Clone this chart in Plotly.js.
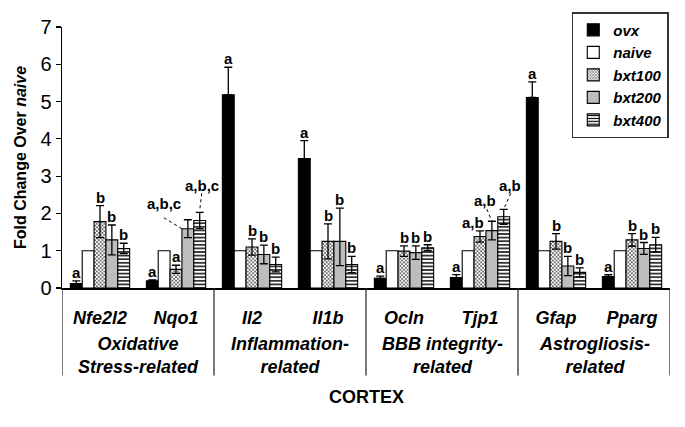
<!DOCTYPE html>
<html>
<head>
<meta charset="utf-8">
<script src="https://cdn.plot.ly/plotly-3.0.1.min.js"></script>
<style>
  html, body { margin: 0; padding: 0; background: #ffffff; }
  #chart { width: 685px; height: 427px; }
</style>
</head>
<body>
<div id="chart"></div>
<script>
// Genes on the x axis and the four functional groups (two genes each)
const genes = ['Nfe2l2', 'Nqo1', 'Il2', 'Il1b', 'Ocln', 'Tjp1', 'Gfap', 'Pparg'];
const groupLabels = ['Oxidative<br>Stress-related', 'Inflammation-<br>related', 'BBB integrity-<br>related', 'Astrogliosis-<br>related'];
const seriesNames = ['ovx', 'naive', 'bxt100', 'bxt200', 'bxt400'];

// Fold change values
const ovx    = [0.12, 0.19, 5.18, 3.47, 0.26, 0.28, 5.11, 0.31];
const naive  = [1, 1, 1, 1, 1, 1, 1, 1];
const bxt100 = [1.78, 0.50, 1.10, 1.25, 0.99, 1.38, 1.25, 1.29];
const bxt200 = [1.29, 1.59, 0.90, 1.25, 0.95, 1.54, 0.59, 1.06];
const bxt400 = [1.06, 1.81, 0.63, 0.63, 1.08, 1.91, 0.42, 1.16];

// Error bars
const ovxErr    = [0.07, 0.03, 0.74, 0.48, 0.06, 0.08, 0.42, 0.05];
const bxt100Err = [0.43, 0.11, 0.22, 0.47, 0.14, 0.15, 0.21, 0.17];
const bxt200Err = [0.40, 0.24, 0.25, 0.89, 0.18, 0.25, 0.26, 0.16];
const bxt200ErrDown = [0.40, 0.24, 0.25, 0.65, 0.18, 0.25, 0.26, 0.16];
const bxt400Err = [0.14, 0.22, 0.20, 0.22, 0.08, 0.20, 0.12, 0.20];

// Significance letters
const ovxSig    = ['a', 'a', 'a', 'a', 'a', 'a', 'a', 'a'];
const bxt100Sig = ['b', 'a', 'b', 'b', 'b', 'a,b', 'b', 'b'];
const bxt200Sig = ['b', 'a,b,c', 'b', 'b', 'b', 'a,b', 'b', 'b'];
const bxt400Sig = ['b', 'a,b,c', 'b', 'b', 'b', 'a,b', 'b', 'b'];

const FONT = 'Arial, "Liberation Sans", sans-serif';
const BARGAP = 0.22;
const barW = (1 - BARGAP) / seriesNames.length;
const xs = genes.map((g, i) => i);

const outline = { color: '#000000', width: 1.1 };
const errStyle = { color: '#000000', thickness: 1.3, width: 4 };

const traces = [
  {
    name: 'ovx', x: xs, y: ovx, type: 'bar',
    marker: { color: '#000000', line: outline },
    error_y: Object.assign({ type: 'data', array: ovxErr, arrayminus: ovxErr.map(() => 0) }, errStyle),
  },
  {
    name: 'naive', x: xs, y: naive, type: 'bar',
    marker: { color: '#ffffff', line: outline },
  },
  {
    name: 'bxt100', x: xs, y: bxt100, type: 'bar',
    marker: {
      color: '#ffffff', line: outline,
      pattern: { shape: 'x', size: 2.6, solidity: 0.5, fgcolor: '#555555', bgcolor: '#ffffff' },
    },
    error_y: Object.assign({ type: 'data', array: bxt100Err }, errStyle),
  },
  {
    name: 'bxt200', x: xs, y: bxt200, type: 'bar',
    marker: { color: '#bdbdbd', line: outline },
    error_y: Object.assign({ type: 'data', symmetric: false, array: bxt200Err, arrayminus: bxt200ErrDown }, errStyle),
  },
  {
    name: 'bxt400', x: xs, y: bxt400, type: 'bar',
    marker: {
      color: '#ffffff', line: outline,
      pattern: { shape: '-', size: 3.6, solidity: 0.4, fgcolor: '#000000', bgcolor: '#ffffff' },
    },
    error_y: Object.assign({ type: 'data', array: bxt400Err }, errStyle),
  },
];

// Letter labels: placed above each error bar through the axis scales
const sigSets = [
  { idx: 0, vals: ovx, err: ovxErr, sig: ovxSig },
  { idx: 2, vals: bxt100, err: bxt100Err, sig: bxt100Sig },
  { idx: 3, vals: bxt200, err: bxt200Err, sig: bxt200Sig },
  { idx: 4, vals: bxt400, err: bxt400Err, sig: bxt400Sig },
];

// Labels moved aside with a dotted leader (pixel offsets: label dx/dy, line start, line end)
const leaders = {
  '3:1': { dx: -24, dy: 16, line: [-24, 2, -6, -9] },
  '4:1': { dx: 2, dy: 27, line: [2, 19, 0, 2] },
  '3:5': { dx: -7, dy: 21, line: [-5, 12, 0, 0] },
  '4:5': { dx: 6, dy: 24, line: [7, 16, 0, 0] },
};
const nudges = { '2:5': -7 };

const annotations = [];
const shapes = [];
const labelFont = { family: FONT, size: 15, color: '#000000', weight: 'bold' };

sigSets.forEach(s => {
  s.vals.forEach((v, i) => {
    const bx = i + (s.idx - 2) * barW;
    const top = v + s.err[i];
    const key = s.idx + ':' + i;
    const ld = leaders[key];
    if (ld) {
      annotations.push({
        x: bx, y: top, xref: 'x', yref: 'y', text: s.sig[i], showarrow: false,
        xshift: ld.dx, yshift: ld.dy, yanchor: 'middle', font: labelFont,
      });
      shapes.push({
        type: 'line', xref: 'x', yref: 'y', xsizemode: 'pixel', ysizemode: 'pixel',
        xanchor: bx, yanchor: top,
        x0: ld.line[0], y0: ld.line[1], x1: ld.line[2], y1: ld.line[3],
        line: { color: '#000000', width: 1, dash: 'dot' },
      });
    } else {
      annotations.push({
        x: bx, y: top, xref: 'x', yref: 'y', text: s.sig[i], showarrow: false,
        yanchor: 'bottom', xshift: nudges[key] || 0, yshift: -2, font: labelFont,
      });
    }
  });
});

// Group labels under the gene names
groupLabels.forEach((g, k) => {
  annotations.push({
    x: 2 * k + 0.5, y: -0.258, xref: 'x', yref: 'paper', text: '<i>' + g + '</i>',
    showarrow: false, yanchor: 'middle',
    font: { family: FONT, size: 18, color: '#000000', weight: 'bold' },
  });
});

annotations.push({
  x: 0.5, y: -0.418, xref: 'paper', yref: 'paper', text: 'CORTEX', showarrow: false,
  yanchor: 'middle', font: { family: FONT, size: 18, color: '#000000', weight: 'bold' },
});

// Vertical separators between the groups, running down through the label area
[-0.5, 1.5, 3.5, 5.5, 7.5].forEach(b => {
  shapes.push({
    type: 'line', xref: 'x', yref: 'paper', x0: b, x1: b, y0: 0, y1: -0.335,
    line: { color: '#222222', width: 1.2 },
  });
});

const layout = {
  width: 685,
  height: 427,
  margin: { l: 62, r: 15, t: 25, b: 139 },
  paper_bgcolor: '#ffffff',
  plot_bgcolor: '#ffffff',
  barmode: 'group',
  bargap: BARGAP,
  bargroupgap: 0,
  font: { family: FONT, color: '#000000' },
  showlegend: true,
  legend: {
    x: 0.998, y: 1.057, xanchor: 'right', yanchor: 'top',
    bgcolor: '#ffffff', bordercolor: '#333333', borderwidth: 1.5,
    font: { family: FONT, size: 15, color: '#000000', weight: 'bold', style: 'italic' },
    itemwidth: 30, tracegroupgap: 0,
  },
  xaxis: {
    range: [-0.5, 7.5],
    tickvals: xs,
    ticktext: genes.map(g => '<i>' + g + '</i>'),
    ticks: '',
    ticklabelstandoff: 13,
    tickfont: { family: FONT, size: 18, color: '#000000', weight: 'bold' },
    showline: true, linecolor: '#000000', linewidth: 1.5,
    showgrid: false, zeroline: false, fixedrange: true,
  },
  yaxis: {
    range: [0, 7],
    dtick: 1,
    ticks: 'outside', ticklen: 5, tickcolor: '#000000', tickwidth: 1.2,
    tickfont: { family: FONT, size: 20, color: '#000000' },
    showline: true, linecolor: '#000000', linewidth: 1.5,
    showgrid: false, zeroline: false, fixedrange: true,
    title: {
      text: 'Fold Change Over <i>naive</i>',
      font: { family: FONT, size: 16, color: '#000000', weight: 'bold' },
      standoff: 10,
    },
  },
  annotations: annotations,
  shapes: shapes,
};

Plotly.newPlot('chart', traces, layout, { displayModeBar: false, staticPlot: true });
</script>
</body>
</html>
